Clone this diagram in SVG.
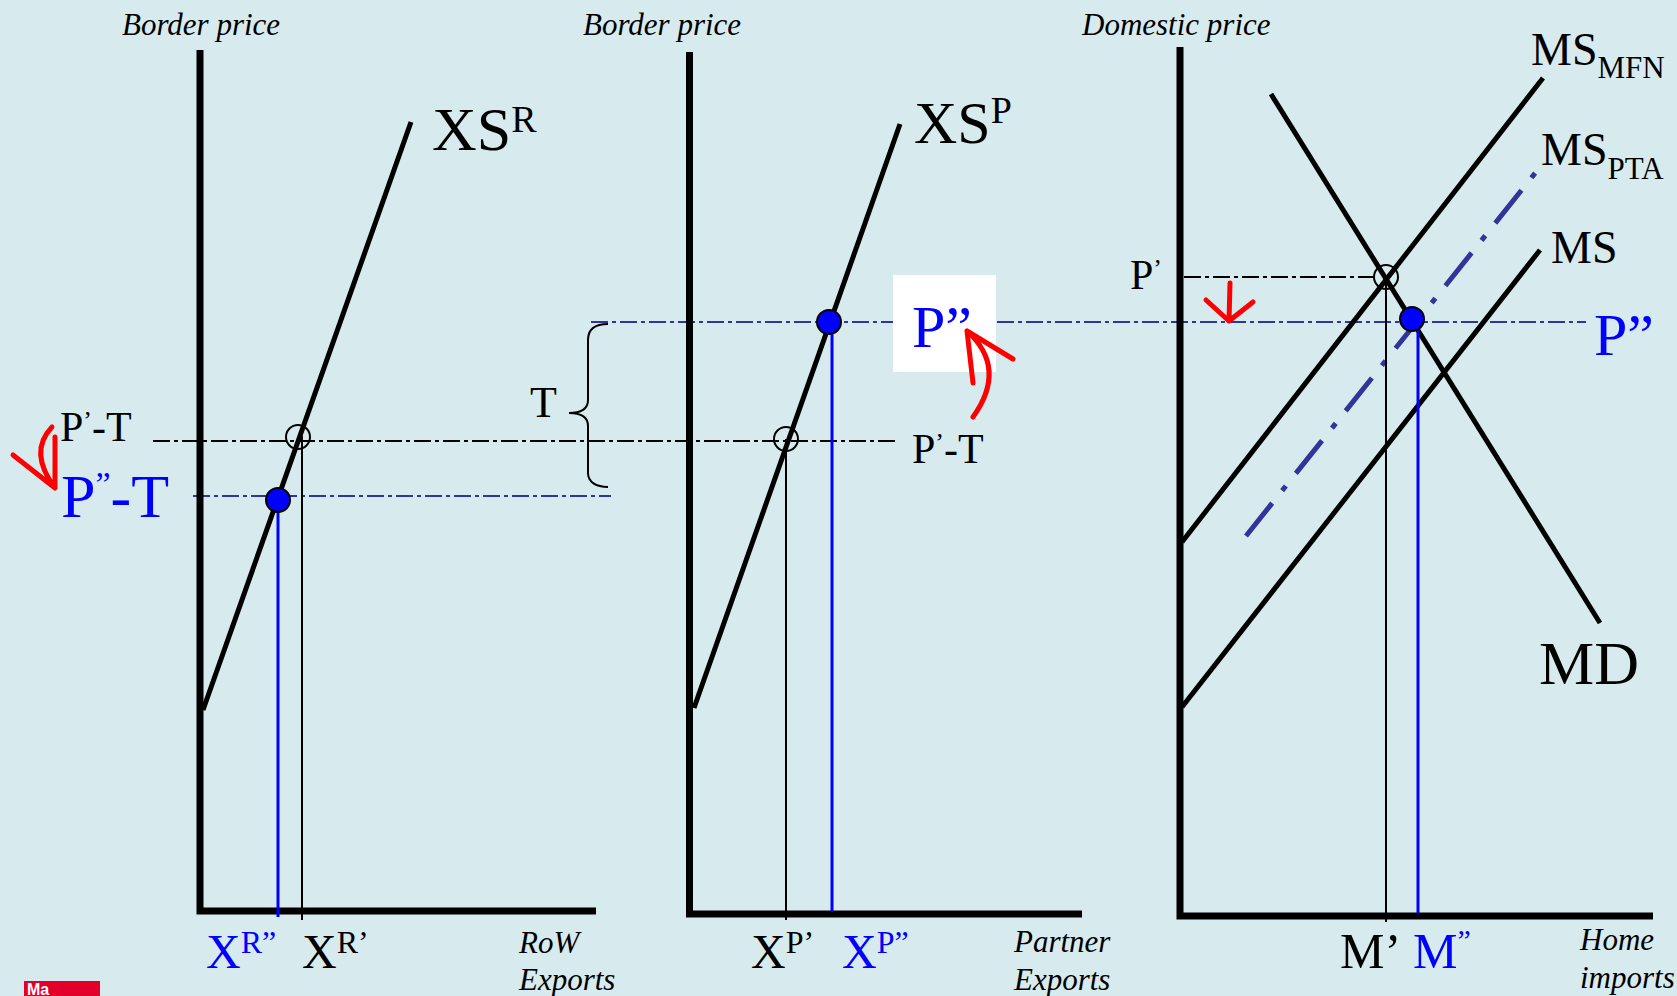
<svg xmlns="http://www.w3.org/2000/svg" width="1677" height="996" viewBox="0 0 1677 996">
<style>
.ax{fill:none;stroke:#000;stroke-width:7;stroke-linejoin:miter}
.crv{stroke:#000;stroke-width:5;fill:none}
.thin{stroke:#000;stroke-width:2;fill:none}
.bv{stroke:#0000FF;stroke-width:3;fill:none}
.dd{stroke:#000;stroke-width:2;stroke-dasharray:17 4 4 4;fill:none}
.bdd{stroke:#333399;stroke-width:2.2;stroke-dasharray:17 4 4 4;fill:none}
.pta{stroke:#333399;stroke-width:5;stroke-dasharray:42 16 6 16;fill:none}
.oc{fill:none;stroke:#000;stroke-width:2}
.dot{fill:#0000FF;stroke:#000;stroke-width:2}
.red{stroke:#FF0000;stroke-width:5;fill:none;stroke-linecap:round;stroke-linejoin:round}
.t{font-family:"Liberation Serif","Times New Roman",serif;fill:#000}
.it{font-family:"Liberation Serif","Times New Roman",serif;font-style:italic;font-size:31px;fill:#000}
.blue{fill:#0000FF}
</style>
<rect x="0" y="0" width="1677" height="996" fill="#D7EBEE"/>

<g id="connectors">
  <line class="dd" x1="153" y1="441" x2="898" y2="441"/>
  <line class="bdd" x1="193" y1="496" x2="611" y2="496"/>
  <line class="bdd" x1="591" y1="322" x2="1586" y2="322"/>
  <line class="dd" x1="1184" y1="277" x2="1375" y2="277"/>
</g>

<g id="panel-row">
  <path class="ax" d="M200,50 V911 H596"/>
  <text class="it" x="122" y="35">Border price</text>
  <line class="crv" x1="203" y1="710" x2="411" y2="122"/>
  <line class="thin" x1="302" y1="436" x2="302" y2="920"/>
  <line class="bv" x1="278" y1="500" x2="278" y2="917"/>
  <circle class="oc" cx="298" cy="437" r="12"/>
  <circle class="dot" cx="278" cy="500" r="12"/>
  <text class="t" x="432" y="150" font-size="62">XS<tspan font-size="38" dy="-18">R</tspan></text>
  <text class="t" x="60" y="441" font-size="42">P<tspan font-size="26" dy="-12">’</tspan><tspan dy="12">-T</tspan></text>
  <text class="t blue" x="61" y="517" font-size="62">P<tspan font-size="34" dy="-22">”</tspan><tspan dy="22">-T</tspan></text>
  <text class="t blue" x="206" y="968" font-size="48">X<tspan font-size="32" dy="-15">R”</tspan></text>
  <text class="t" x="302" y="968" font-size="48">X<tspan font-size="32" dy="-15">R’</tspan></text>
  <text class="it" x="519" y="953">RoW</text>
  <text class="it" x="519" y="990">Exports</text>
  <path class="red" d="M52,427 Q28,452 55,488 M13,455 L55,488 L55,437"/>
</g>

<g id="tariff-brace">
  <path class="thin" d="M608,324 C596,324 588,328 588,340 V400 C588,408 582,413 569,413 C582,413 588,418 588,426 V473 C588,482 596,487 608,487"/>
  <text class="t" x="530" y="417" font-size="44">T</text>
</g>

<g id="panel-partner">
  <path class="ax" d="M689.5,52 V914 H1082"/>
  <text class="it" x="583" y="35">Border price</text>
  <line class="crv" x1="694" y1="708" x2="900" y2="124"/>
  <line class="thin" x1="786" y1="439" x2="786" y2="920"/>
  <line class="bv" x1="832" y1="322" x2="832" y2="912"/>
  <circle class="oc" cx="786" cy="439" r="12"/>
  <circle class="dot" cx="829" cy="322" r="12"/>
  <text class="t" x="914" y="143" font-size="60">XS<tspan font-size="38" dy="-20">P</tspan></text>
  <text class="t" x="912" y="463" font-size="42">P<tspan font-size="26" dy="-12">’</tspan><tspan dy="12">-T</tspan></text>
  <rect x="893" y="275" width="103" height="97" fill="#FFFFFF"/>
  <text class="t blue" x="912" y="347" font-size="60">P”</text>
  <text class="t" x="751" y="968" font-size="48">X<tspan font-size="32" dy="-15">P’</tspan></text>
  <text class="t blue" x="842" y="968" font-size="48">X<tspan font-size="32" dy="-15">P”</tspan></text>
  <text class="it" x="1014" y="952">Partner</text>
  <text class="it" x="1014" y="990">Exports</text>
  <path class="red" d="M973,417 Q1008,368 967,331 M973,383 L967,331 L1013,359"/>
</g>

<g id="panel-home">
  <path class="ax" d="M1180,47 V916 H1653"/>
  <text class="it" x="1082" y="35">Domestic price</text>
  <line class="crv" x1="1271" y1="94" x2="1600" y2="623"/>
  <line class="crv" x1="1182" y1="542" x2="1543" y2="78"/>
  <line class="crv" x1="1182" y1="707" x2="1540" y2="250"/>
  <line class="pta" x1="1246" y1="536" x2="1540" y2="167"/>
  <line class="thin" x1="1386" y1="277" x2="1386" y2="922"/>
  <line class="bv" x1="1418" y1="318" x2="1418" y2="913"/>
  <circle class="oc" cx="1386" cy="277" r="12"/>
  <circle class="dot" cx="1412" cy="319" r="12"/>
  <text class="t" x="1130" y="289" font-size="42">P<tspan font-size="26" dy="-12">’</tspan></text>
  <text class="t" x="1531" y="65" font-size="46">MS<tspan font-size="31" dy="13">MFN</tspan></text>
  <text class="t" x="1541" y="165" font-size="46">MS<tspan font-size="31" dy="14">PTA</tspan></text>
  <text class="t" x="1551" y="263" font-size="46">MS</text>
  <text class="t" x="1539" y="684" font-size="62">MD</text>
  <text class="t blue" x="1594" y="355" font-size="60">P”</text>
  <text class="t" x="1340" y="968" font-size="50">M’</text>
  <text class="t blue" x="1413" y="968" font-size="50">M<tspan font-size="30" dy="-18">”</tspan></text>
  <text class="it" x="1580" y="950">Home</text>
  <text class="it" x="1580" y="988">imports</text>
  <path class="red" d="M1230,283 L1229,321 M1206,300 L1229,321 L1253,302"/>
</g>

<g id="logo">
  <rect x="24" y="981" width="76" height="15" fill="#E2002B"/>
  <text x="27" y="995" font-family="Liberation Sans, Arial, sans-serif" font-weight="bold" font-size="16" fill="#FFFFFF">Ma</text>
</g>
</svg>
